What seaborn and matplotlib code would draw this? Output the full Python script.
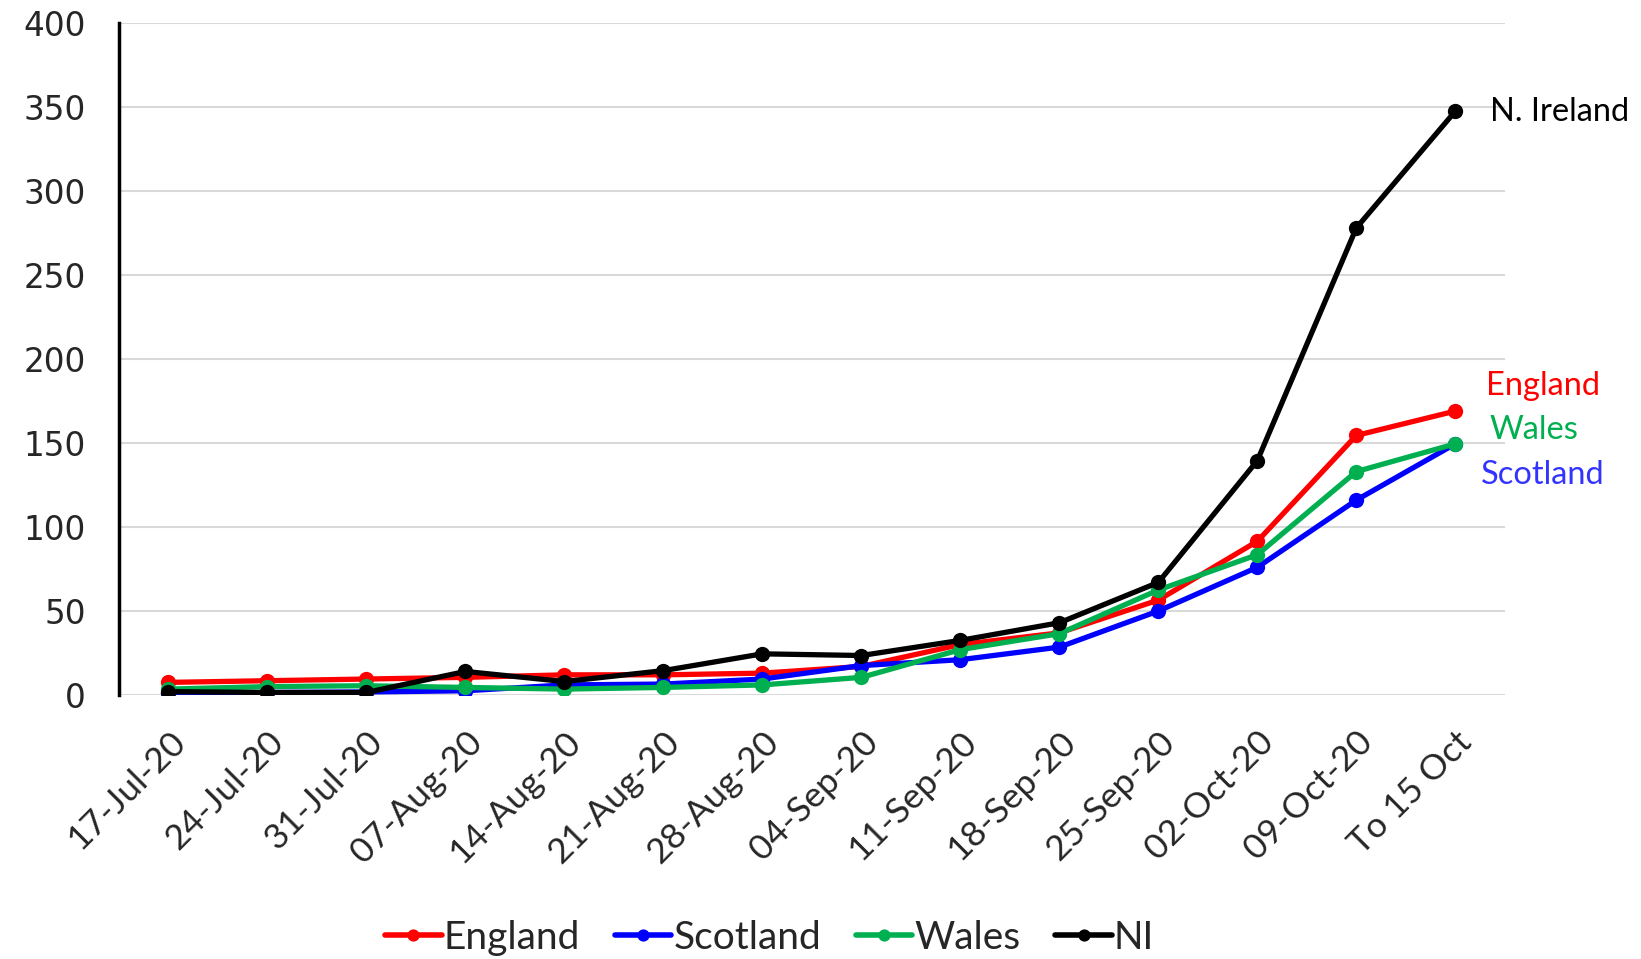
import numpy as np
import pandas as pd
import matplotlib
matplotlib.use("Agg")
import matplotlib.pyplot as plt
import seaborn as sns

weeks = ["17-Jul-20", "24-Jul-20", "31-Jul-20", "07-Aug-20", "14-Aug-20", "21-Aug-20",
         "28-Aug-20", "04-Sep-20", "11-Sep-20", "18-Sep-20", "25-Sep-20", "02-Oct-20",
         "09-Oct-20", "To 15 Oct"]
england = [7.5, 8.5, 9.5, 10.5, 12, 12, 13, 17, 30, 37, 56.5, 91.5, 154.5, 169]
scotland = [1, 1.5, 1.8, 2.5, 6, 6.5, 9.5, 17.5, 21, 28.5, 50, 76, 116, 149.5]
wales = [3.5, 5, 5.5, 4.5, 3.5, 4.5, 6, 10.5, 27, 36.5, 62.5, 83.5, 133, 149.5]
ni = [2, 1.5, 1.5, 14, 8, 14.5, 24.5, 23.5, 32.5, 43, 67, 139.5, 278, 347.5]

nations = ["England", "Scotland", "Wales", "NI"]
colors = ["#ff0000", "#0000ff", "#00b050", "#000000"]
end_labels = ["England", "Scotland", "Wales", "N. Ireland"]
label_colors = ["#ff0000", "#3333ff", "#00b050", "#000000"]

rows = []
for name, vals in zip(nations, [england, scotland, wales, ni]):
    for i, v in enumerate(vals):
        rows.append({"week": i, "value": v, "nation": name})
df = pd.DataFrame(rows)

sns.set_style("white")
plt.rcParams["font.family"] = ["Lato", "DejaVu Sans"]

fig = plt.figure(figsize=(16.41, 9.59), dpi=100)
ax = fig.add_axes([0.0725, 0.2753, 0.8445, 0.7007])

sns.lineplot(data=df, x="week", y="value", hue="nation", hue_order=nations,
             palette=colors, marker="o", markersize=11, markeredgewidth=0,
             linewidth=3.8, sort=False, ax=ax, legend=True)

ax.set_xlim(-0.5, len(weeks) - 0.5)
ax.set_ylim(0, 400)
ax.set_yticks(np.arange(0, 401, 50))
ax.yaxis.grid(True, color="#d9d9d9", linewidth=1.5)
ax.set_axisbelow(True)
for s in ["top", "right", "bottom"]:
    ax.spines[s].set_visible(False)
ax.spines["left"].set_color("black")
ax.spines["left"].set_linewidth(2.5)

ax.set_xticks(range(len(weeks)))
ax.set_xticklabels(weeks, rotation=45, ha="right", rotation_mode="anchor",
                   fontsize=25.5)
ax.tick_params(axis="x", length=0, pad=22)
ax.tick_params(axis="y", length=0, pad=24)
for t in ax.get_yticklabels():
    t.set_fontfamily("DejaVu Sans")
    t.set_fontsize(23.5)
ax.set_xlabel("")
ax.set_ylabel("")

# labels at the right end of each series
label_pos = {"N. Ireland": (13.35, 347), "England": (13.31, 184),
             "Wales": (13.35, 158), "Scotland": (13.26, 131)}
for txt, col in zip(end_labels, label_colors):
    x, y = label_pos[txt]
    ax.text(x, y, txt, color=col, fontsize=23.5, va="center", ha="left",
            clip_on=False)

handles, labels = ax.get_legend_handles_labels()
for h in handles:
    h.set_linewidth(4)
ax.legend(handles, labels, loc="center", bbox_to_anchor=(0.469, 0.022),
          bbox_transform=fig.transFigure, ncol=4, frameon=False, fontsize=28,
          handlelength=1.45, handletextpad=0.05, columnspacing=0.9,
          markerscale=0.8)

fig.savefig("out.png", dpi=100)
